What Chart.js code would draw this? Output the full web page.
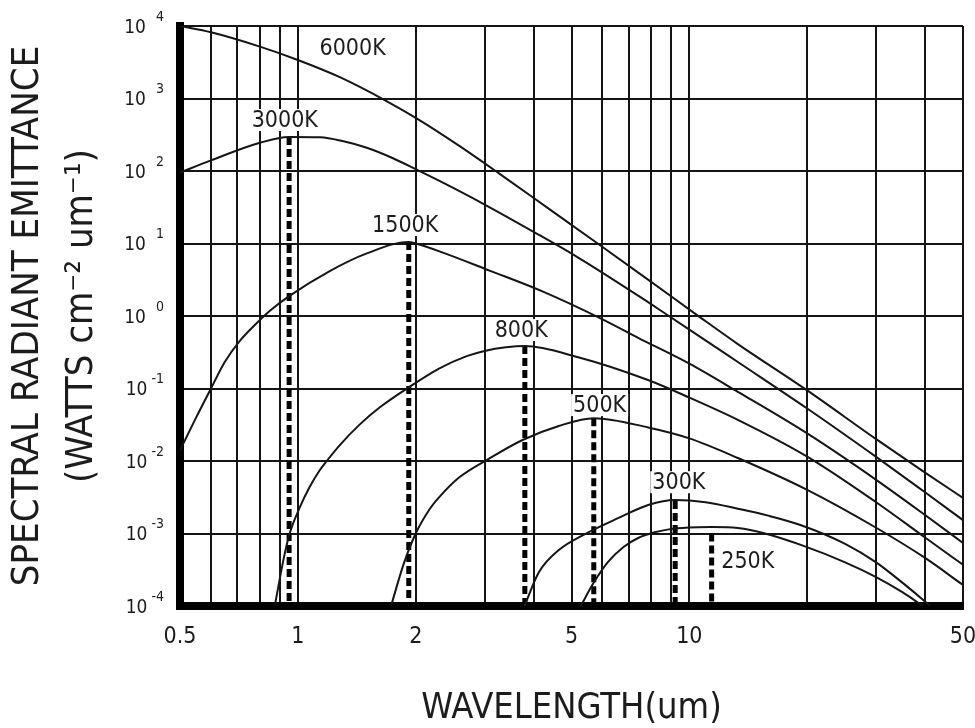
<!DOCTYPE html>
<html>
<head>
<meta charset="utf-8">
<script src="https://cdn.jsdelivr.net/npm/chart.js@4.4.1/dist/chart.umd.min.js"></script>
<style>
  html, body { margin: 0; padding: 0; background: #fff; }
  #caixa { width: 975px; height: 728px; }
</style>
</head>
<body>
<div id="caixa"><canvas id="grafico" width="975" height="728"></canvas></div>
<script>
// comprimento de onda (um) e emitancia (W cm-2 um-1)
const wl6000 = [0.5, 0.6, 0.8, 1.0, 1.28, 1.68, 2.03, 2.59, 3.27, 4.38, 5.88, 7.89, 10.57, 13.3, 20, 30, 40, 50];
const em6000 = [10000, 8200, 5200, 3400, 1970, 930, 515, 220, 92, 30, 9.7, 3.1, 0.99, 0.41, 0.094, 0.02, 0.0069, 0.0031];

const wl3000 = [0.5, 0.6, 0.8, 0.95, 1.14, 1.3, 1.5, 1.75, 2.0, 2.3, 3.0, 4.0, 5.2, 7.4, 8.75, 10, 13.3, 20, 30, 40, 50];
const em3000 = [95, 140, 245, 295, 292, 259, 209, 150, 106, 73, 34.5, 14.5, 6.4, 1.91, 1.05, 0.65, 0.232, 0.053, 0.0114, 0.0037, 0.00153];

const wl1500 = [0.5, 0.55, 0.6, 0.65, 0.71, 0.78, 0.85, 0.95, 1.2, 1.5, 1.92, 2.0, 2.3, 3.1, 4.2, 6.0, 7.4, 10, 13.3, 20, 30, 40, 50];
const em1500 = [0.014, 0.04, 0.1, 0.23, 0.45, 0.77, 1.19, 1.88, 4.1, 7.3, 10.5, 10.0, 7.8, 4.2, 2.2, 0.9, 0.5, 0.22, 0.09, 0.024, 0.0055, 0.0018, 0.00074];

const wl800 = [0.873, 0.92, 0.953, 1.01, 1.07, 1.136, 1.185, 1.28, 1.44, 1.62, 1.9, 2.3, 2.7, 3.0, 3.4, 3.8, 5.2, 7.84, 10, 13.3, 20, 30, 40, 50];
const em800 = [0.0001, 0.00045, 0.001, 0.00225, 0.0043, 0.0074, 0.01, 0.0166, 0.032, 0.055, 0.1, 0.19, 0.28, 0.33, 0.37, 0.385, 0.27, 0.131, 0.075, 0.037, 0.0115, 0.0027, 0.00088, 0.00037];

const wl500 = [1.73, 1.86, 2.0, 2.17, 2.3, 2.59, 3.08, 3.75, 4.64, 5.7, 7.85, 10, 13.3, 20, 30, 40, 50];
const em500 = [0.0001, 0.00037, 0.001, 0.00216, 0.0032, 0.006, 0.0108, 0.0195, 0.0304, 0.039, 0.029, 0.0205, 0.011, 0.004, 0.0012, 0.00046, 0.000195];

const wl300 = [3.79, 4.13, 4.64, 5.43, 6.6, 7.85, 9.2, 11, 13.3, 16, 19.3, 25, 30, 35, 41.3];
const em300 = [0.0001, 0.000294, 0.00059, 0.00099, 0.00164, 0.00247, 0.0029, 0.0027, 0.0022, 0.00175, 0.0013, 0.00072, 0.0004, 0.00021, 0.0001];

const wl250 = [5.28, 5.69, 6.2, 6.79, 7.4, 8.11, 8.86, 9.95, 11.4, 13.3, 15.6, 19.5, 25, 30, 35, 39.5];
const em250 = [0.0001, 0.000207, 0.000405, 0.000652, 0.000867, 0.00103, 0.00114, 0.00121, 0.00123, 0.00119, 0.001, 0.00068, 0.0004, 0.00025, 0.000155, 0.0001];

// linhas tracejadas nos picos
const picoWl = [0.95, 1.92, 3.8, 5.7, 9.2, 11.4];
const picoTopo = [295, 10.5, 0.385, 0.039, 0.0028, 0.001];

// rotulos das curvas
const rotuloTexto = ['6000K', '3000K', '1500K', '800K', '500K', '300K', '250K'];
const rotuloWl = [1.38, 0.926, 1.88, 3.72, 5.9, 9.4, 14.1];
const rotuloVal = [5000, 505, 18, 0.64, 0.059, 0.0051, 0.00042];

// eixos
const xGrade = [0.5, 0.6, 0.7, 0.8, 0.9, 1, 2, 3, 4, 5, 6, 7, 8, 9, 10, 20, 30, 40, 50];
const xTexto = ['0.5', '', '', '', '', '1', '2', '', '', '5', '', '', '', '', '10', '', '', '', '50'];
const yGrade = [1e-4, 1e-3, 1e-2, 1e-1, 1, 1e1, 1e2, 1e3, 1e4];
const yExpoente = ['-4', '-3', '-2', '-1', '0', '1', '2', '3', '4'];

const FONTE = "'DejaVu Sans Condensed', 'DejaVu Sans', sans-serif";
const TINTA = '#151515';
const TEXTO = '#1c1c1c';

function pares(wl, em) {
  return wl.map((x, i) => ({ x: x, y: em[i] }));
}

const curvas = [
  [wl6000, em6000], [wl3000, em3000], [wl1500, em1500], [wl800, em800],
  [wl500, em500], [wl300, em300], [wl250, em250]
];

const datasets = curvas.map(([wl, em]) => ({
  data: pares(wl, em),
  borderColor: TINTA,
  borderWidth: 2,
  pointRadius: 0,
  fill: false,
  cubicInterpolationMode: 'monotone'
}));

picoWl.forEach((x, i) => {
  datasets.push({
    data: [{ x: x, y: picoTopo[i] }, { x: x, y: yGrade[0] }],
    borderColor: '#000',
    borderWidth: 5,
    borderDash: [8, 4],
    borderCapStyle: 'butt',
    pointRadius: 0,
    fill: false
  });
});

const rotulosY = {
  id: 'rotulosY',
  afterDraw(chart) {
    const ctx = chart.ctx;
    const y = chart.scales.y;
    const direita = chart.chartArea.left - 16;
    ctx.save();
    ctx.fillStyle = TEXTO;
    ctx.textBaseline = 'middle';
    ctx.textAlign = 'right';
    yGrade.forEach((v, i) => {
      const py = y.getPixelForValue(v);
      const exp = yExpoente[i];
      ctx.font = '14px ' + FONTE;
      const w = ctx.measureText(exp).width;
      ctx.fillText(exp, direita, py - 9);
      ctx.font = '19px ' + FONTE;
      ctx.fillText('10', direita - w - (exp[0] === '-' ? 4 : 10), py + 2);
    });
    ctx.restore();
  }
};

const rotulosCurvas = {
  id: 'rotulosCurvas',
  afterDatasetsDraw(chart) {
    const ctx = chart.ctx;
    const x = chart.scales.x;
    const y = chart.scales.y;
    ctx.save();
    ctx.font = '23px ' + FONTE;
    ctx.textAlign = 'center';
    ctx.textBaseline = 'middle';
    rotuloTexto.forEach((t, i) => {
      const px = x.getPixelForValue(rotuloWl[i]);
      const py = y.getPixelForValue(rotuloVal[i]);
      const w = ctx.measureText(t).width;
      ctx.fillStyle = '#fff';
      ctx.fillRect(px - w / 2 - 2, py - 11, w + 4, 22);
      ctx.fillStyle = TEXTO;
      ctx.fillText(t, px, py + 1);
    });
    ctx.restore();
  }
};

new Chart(document.getElementById('grafico'), {
  type: 'line',
  data: { datasets: datasets },
  options: {
    responsive: false,
    animation: false,
    events: [],
    layout: { padding: { top: 26, right: 12, left: 0, bottom: 0 } },
    plugins: {
      legend: { display: false },
      tooltip: { enabled: false }
    },
    scales: {
      x: {
        type: 'logarithmic',
        min: 0.5,
        max: 50,
        afterBuildTicks: (s) => { s.ticks = xGrade.map(v => ({ value: v })); },
        afterFit: (s) => { s.height = 122; s.paddingLeft = 0; s.paddingRight = 0; },
        grid: { color: TINTA, lineWidth: 2, drawTicks: false },
        border: { color: '#000', width: 8 },
        ticks: {
          autoSkip: false,
          maxRotation: 0,
          padding: 17,
          color: TEXTO,
          font: { family: FONTE, size: 23 },
          callback: (v, i) => xTexto[i]
        },
        title: {
          display: true,
          text: 'WAVELENGTH(um)',
          color: TEXTO,
          font: { family: FONTE, size: 36, lineHeight: 1 },
          padding: { top: 0, bottom: 1 }
        }
      },
      y: {
        type: 'logarithmic',
        min: 1e-4,
        max: 1e4,
        afterBuildTicks: (s) => { s.ticks = yGrade.map(v => ({ value: v })); },
        afterFit: (s) => { s.width = 180; s.paddingTop = 0; s.paddingBottom = 0; },
        grid: { color: TINTA, lineWidth: 2, drawTicks: false },
        border: { color: '#000', width: 8 },
        ticks: { display: false },
        title: {
          display: true,
          text: ['SPECTRAL RADIANT EMITTANCE', '(WATTS cm\u207B\u00B2 um\u207B\u00B9)'],
          color: TEXTO,
          font: { family: FONTE, size: 38, lineHeight: 1.4 },
          padding: { top: 2, bottom: 0 }
        }
      }
    }
  },
  plugins: [rotulosY, rotulosCurvas]
});
</script>
</body>
</html>
